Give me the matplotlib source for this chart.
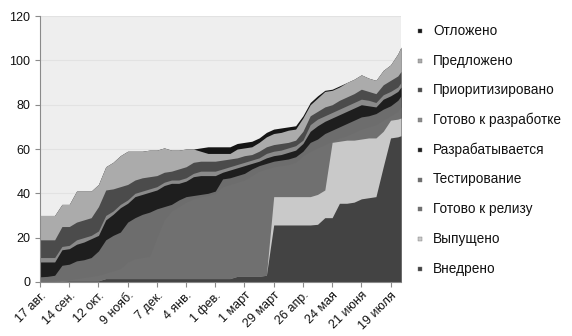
import matplotlib
matplotlib.use('Agg')
import matplotlib.pyplot as plt
import pandas as pd

plt.rcParams['font.family'] = ['Liberation Sans', 'DejaVu Sans']

# weekly snapshots, last one is the partial week at the end of July
dates = pd.date_range('2009-08-17', periods=50, freq='7D').append(pd.DatetimeIndex(['2010-07-29']))

# cumulative number of items that reached each state (cumulative flow)
otlozheno = [30, 30, 30, 35, 35, 41, 41, 41, 44, 52,
             54, 57, 59, 59, 59, 59.5, 59.5, 60.5, 59.5, 59.5,
             60, 60, 60.5, 61, 61, 61, 61, 62.5, 63, 63.5,
             65, 67.5, 69, 69.5, 70, 70.5, 75, 81, 84, 86.5,
             87, 88.5, 90, 91.5, 93.5, 92, 91, 95.5, 98, 103, 106]
predlozheno = [30, 30, 30, 35, 35, 41, 41, 41, 44, 52,
               54, 57, 59, 59, 59, 59.5, 59.5, 60.5, 59.5, 59.5,
               60, 60, 59, 58, 58, 58, 58, 60, 60.5, 61,
               63, 65.5, 67, 67.5, 68.5, 69, 74, 80, 83, 86,
               86.5, 88, 90, 91.5, 93.5, 92, 91, 95.5, 98, 103, 106]
prioritizirovano = [19, 19, 19, 25, 25, 27, 28, 29, 34, 41.5,
                    42, 43, 44, 46, 47, 47.5, 48, 49.5, 50, 51,
                    52, 54, 54.5, 54.5, 54.5, 55, 55.5, 56, 57, 57.5,
                    59, 61, 62, 62.5, 63, 64, 68, 75, 77, 79,
                    80, 82, 83.5, 85, 87, 86, 85, 89, 91, 93, 95]
gotovo_k_razrabotke = [11, 11, 11, 16, 16.5, 19, 20, 21, 23, 30,
                       32, 35, 37, 40, 41, 42, 43, 45, 46, 46,
                       47, 49, 50, 50, 50, 51, 52, 53, 54, 55,
                       56, 58, 59, 59.5, 60.5, 61.5, 64, 71, 73.5, 75,
                       76.5, 78, 79.5, 81, 82.5, 82, 81, 84.5, 86, 88, 90]
razrabatyvaetsya = [9, 9, 9, 14.5, 15, 17, 18, 19.5, 21, 28,
                    30.5, 33.5, 35.5, 38.5, 39.5, 40.5, 41.5, 43.5, 44.5, 44.5,
                    45.5, 47.5, 48, 48, 48, 49.5, 50.5, 51.5, 52.5, 53.5,
                    54.5, 56, 57, 57.5, 58.5, 59.5, 62.5, 68, 70.5, 72.5,
                    74, 75.5, 77, 78.5, 80, 79.5, 79, 82.5, 84, 86, 88]
testirovanie = [2.3, 2.5, 3, 7.5, 8, 9.5, 10, 11, 14, 19,
                21, 22.5, 27, 29, 30.5, 31.5, 33, 34, 35, 37,
                38.5, 39, 39.5, 40, 41, 46.5, 47, 48, 49, 51,
                52.5, 53.5, 54.5, 55, 55.5, 56.5, 59, 63, 64.5, 67,
                68.5, 70, 71.5, 73, 74.5, 75, 76, 78, 79.5, 82, 84]
gotovo_k_relizu = [0.3, 0.3, 0.5, 1, 1, 1.5, 2, 2.5, 3, 4,
                   5, 6, 9, 10.5, 11, 11.5, 20, 28, 32, 34,
                   36, 37.5, 38.5, 39, 40, 43, 44, 45, 46, 48,
                   50, 51, 52, 52.5, 53, 54, 57, 59, 60.5, 62,
                   63.5, 65, 66, 67.5, 69, 70, 71, 73, 75, 77, 79]
vypushcheno = [0, 0, 0, 0.3, 0.5, 0.5, 0.5, 0.5, 0.5, 1.5,
               1.5, 1.5, 1.5, 1.5, 1.5, 1.5, 1.5, 1.5, 1.5, 1.5,
               1.5, 1.5, 1.5, 1.5, 1.5, 1.5, 1.5, 2.5, 2.5, 2.5,
               2.5, 3, 38.5, 38.5, 38.5, 38.5, 38.5, 38.5, 39.5, 41.5,
               63, 63.5, 64, 64, 64.5, 65, 65, 68, 73, 73.5, 74]
vnedreno = [0, 0, 0, 0.3, 0.5, 0.5, 0.5, 0.5, 0.5, 1.5,
            1.5, 1.5, 1.5, 1.5, 1.5, 1.5, 1.5, 1.5, 1.5, 1.5,
            1.5, 1.5, 1.5, 1.5, 1.5, 1.5, 1.5, 2.5, 2.5, 2.5,
            2.5, 3, 25.7, 25.7, 25.7, 25.7, 25.7, 25.7, 26, 29,
            29, 35.5, 35.5, 36, 37.5, 38, 38.5, 52, 65, 65.5, 66]

labels = ['Отложено', 'Предложено', 'Приоритизировано', 'Готово к разработке',
          'Разрабатывается', 'Тестирование', 'Готово к релизу', 'Выпущено', 'Внедрено']
series = [otlozheno, predlozheno, prioritizirovano, gotovo_k_razrabotke,
          razrabatyvaetsya, testirovanie, gotovo_k_relizu, vypushcheno, vnedreno]
colors = ['#151515', '#ababab', '#4b4b4b', '#8a8a8a',
          '#1e1e1e', '#6d6d6d', '#707070', '#c9c9c9', '#434343']

tick_dates = pd.date_range('2009-08-17', periods=13, freq='28D')
tick_labels = ['17 авг.', '14 сен.', '12 окт.', '9 нояб.', '7 дек.', '4 янв.',
               '1 фев.', '1 март', '29 март', '26 апр.', '24 мая', '21 июня', '19 июля']

fig = plt.figure(figsize=(5.72, 3.36), dpi=100)
ax = fig.add_axes([0.070, 0.161, 0.631, 0.791])
ax.set_facecolor('#eeeeee')

# paint from the top state down, each one filled to zero
for vals, c in zip(series, colors):
    ax.fill_between(dates, 0, vals, color=c, linewidth=0, zorder=2)

ax.set_ylim(0, 120)
ax.set_yticks(range(0, 121, 20))
ax.set_xlim(dates[0], dates[-1])
ax.set_xticks(tick_dates)
ax.set_xticklabels(tick_labels, rotation=45, ha='right', rotation_mode='anchor')
ax.grid(axis='y', color='#e2e2e2', linewidth=0.8, zorder=1)
ax.set_axisbelow(True)

for s in ['top', 'right']:
    ax.spines[s].set_visible(False)
for s in ['left', 'bottom']:
    ax.spines[s].set_color('#8a8a8a')
    ax.spines[s].set_linewidth(0.8)
ax.tick_params(axis='both', colors='#8a8a8a', labelcolor='#111111',
               labelsize=9, length=3.5, width=0.8)
ax.tick_params(axis='x', pad=2)

# legend column on the right
for i, (name, c) in enumerate(zip(labels, colors)):
    y = 1 - (31 + 29.7 * i) / 336
    fig.add_artist(plt.Line2D([420 / 572], [y], marker='s', ms=3.3, color=c,
                              markeredgecolor='#777777', markeredgewidth=0.3,
                              transform=fig.transFigure))
    fig.text(433 / 572, y, name, va='center', ha='left', fontsize=9.8, color='#111111')

fig.savefig('out.png', dpi=100)
